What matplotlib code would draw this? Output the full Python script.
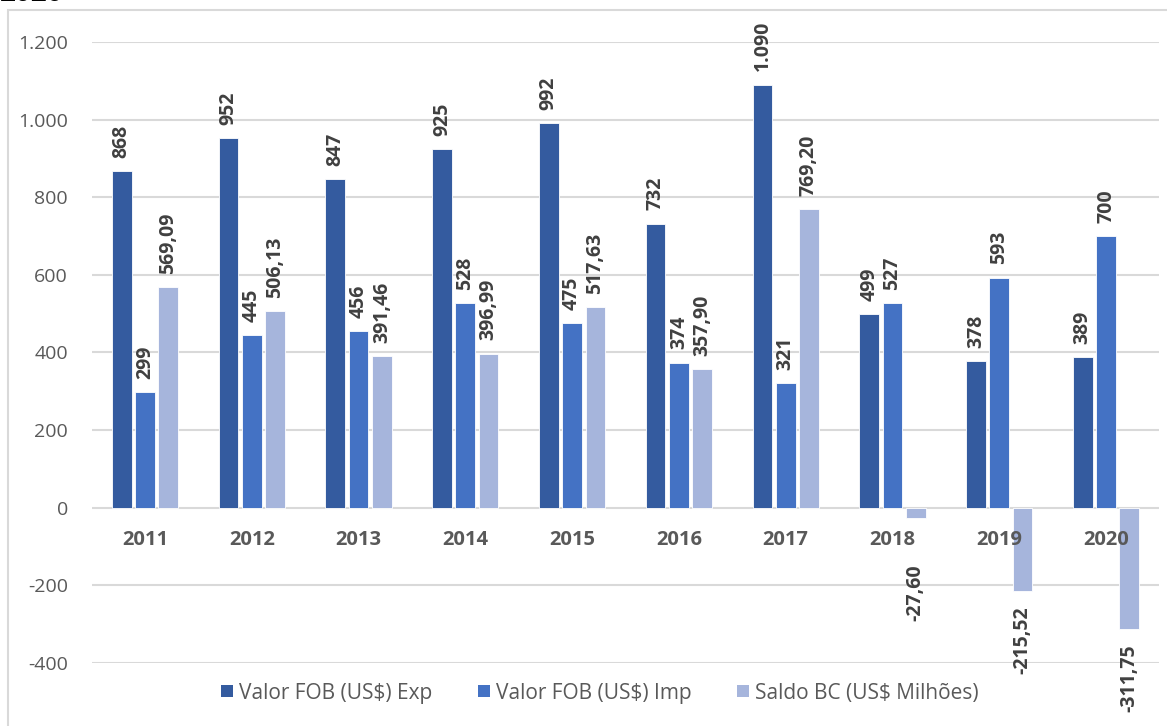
import matplotlib
matplotlib.use("Agg")
import matplotlib.pyplot as plt
from matplotlib.patches import Patch, Rectangle
from matplotlib.ticker import FuncFormatter
import numpy as np

years = ["2011", "2012", "2013", "2014", "2015", "2016", "2017", "2018", "2019", "2020"]
exp_vals = [868, 952, 847, 925, 992, 732, 1090, 499, 378, 389]
imp_vals = [299, 445, 456, 528, 475, 374, 321, 527, 593, 700]
saldo_vals = [569.09, 506.13, 391.46, 396.99, 517.63, 357.90, 769.20, -27.60, -215.52, -311.75]
series_names = ["Valor FOB (US$) Exp", "Valor FOB (US$) Imp", "Saldo BC (US$ Milhões)"]
yticks = [-400, -200, 0, 200, 400, 600, 800, 1000, 1200]

colors = ["#345B9F", "#4472C4", "#A6B5DC"]
txt_gray = "#595959"
lab_gray = "#404040"
grid_gray = "#D9D9D9"
FONT = "Open Sans"

plt.rcParams["font.family"] = [FONT, "DejaVu Sans"]

fig = plt.figure(figsize=(11.67, 7.26), dpi=100)
ax = fig.add_axes([91.6 / 1167, 1 - 663 / 726, (1159.4 - 91.6) / 1167, (663 - 42) / 726])

x = np.arange(len(years))
pitch = 0.218
bw = 0.185


def fmt_int(v):
    return f"{int(round(v)):,}".replace(",", ".")


def fmt_dec(v):
    s = f"{v:,.2f}"
    return s.replace(",", "X").replace(".", ",").replace("X", ".")


all_series = [exp_vals, imp_vals, saldo_vals]
formatters = [fmt_int, fmt_int, fmt_dec]
# extra downward nudge (points) for labels Excel moved to avoid category labels
nudge = {(2, 7): 22}

for si, (vals, col) in enumerate(zip(all_series, colors)):
    pos = x + (si - 1) * pitch
    ax.bar(pos, vals, width=bw, color=col, edgecolor="white", linewidth=0.6,
           zorder=3, label=series_names[si])
    for i, (p, v) in enumerate(zip(pos, vals)):
        off = 9.5 if v >= 0 else -11 - nudge.get((si, i), 0)
        ax.annotate(formatters[si](v), xy=(p, v), xytext=(0, off),
                    textcoords="offset points", rotation=90,
                    ha="center", va="bottom" if v >= 0 else "top",
                    fontsize=14, fontweight="bold", color=lab_gray,
                    annotation_clip=False, zorder=5)

ax.set_xlim(-0.5, len(years) - 0.5)
ax.set_ylim(-400, 1200)
ax.set_yticks(yticks)
ax.yaxis.set_major_formatter(FuncFormatter(lambda v, p: fmt_int(v)))
ax.tick_params(axis="y", length=0, labelsize=14, labelcolor=txt_gray, pad=17)
ax.set_xticks([])
ax.grid(axis="y", color=grid_gray, linewidth=1.5, zorder=0)
ax.set_axisbelow(True)
for s in ax.spines.values():
    s.set_visible(False)

for i, yr in enumerate(years):
    ax.annotate(yr, xy=(i, 0), xytext=(0, -23), textcoords="offset points",
                ha="center", va="center", fontsize=14.5, fontweight="bold",
                color=txt_gray, annotation_clip=False, zorder=4)

handles = [Patch(facecolor=c, edgecolor="none") for c in colors]
fig.legend(handles, series_names, loc="center", bbox_to_anchor=(600 / 1167, 1 - 693 / 726),
           ncol=3, frameon=False, fontsize=15, labelcolor=txt_gray,
           handlelength=0.55, handleheight=0.55, handletextpad=0.3, columnspacing=2.2)

# outer chart border (partially cropped)
fig.patches.append(Rectangle((8 / 1167, -0.05), 1.2, 1 - 10 / 726 + 0.05,
                             transform=fig.transFigure, fill=False,
                             edgecolor=grid_gray, linewidth=1.5))
# cropped title fragment
fig.text(0.0, 1 - 8 / 726, "2020", ha="left", va="bottom", fontsize=20,
         fontweight="bold", color="black")

fig.savefig("out.png", dpi=100)
